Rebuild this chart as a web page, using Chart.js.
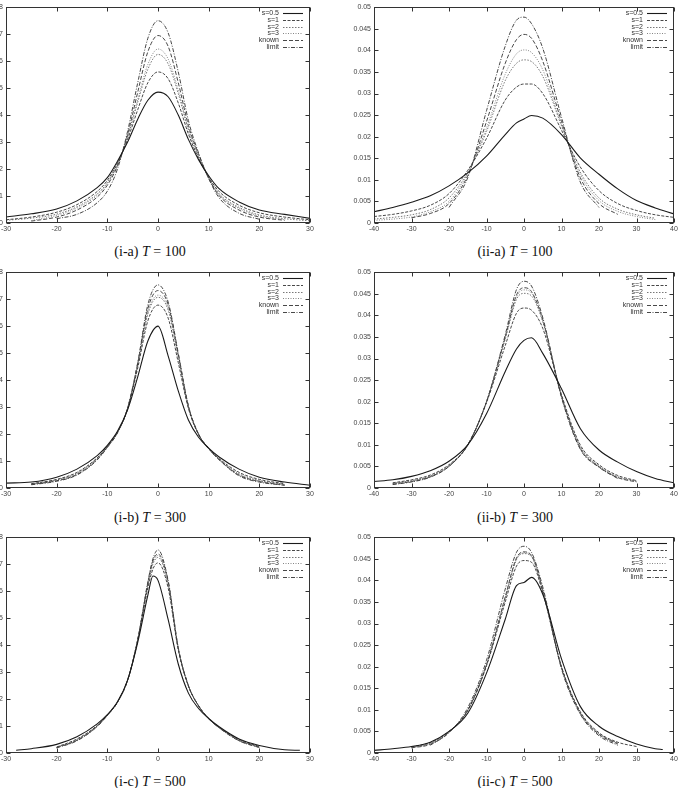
<!DOCTYPE html>
<html>
<head>
<meta charset="utf-8">
<script src="https://cdn.jsdelivr.net/npm/chart.js@4.4.0/dist/chart.umd.min.js"></script>
<style>
html, body { margin: 0; padding: 0; background: #fff; }
body { width: 678px; height: 788px; position: relative; overflow: hidden; }
canvas { position: absolute; }
.cap { position: absolute; width: 200px; text-align: center; font-family: "Liberation Serif", "DejaVu Serif", serif; font-size: 14px; line-height: 16px; color: #111; white-space: nowrap; }
</style>
</head>
<body>
<script>
// series names (legend order)
var seriesNames = ['s=0.5', 's=1', 's=2', 's=3', 'known', 'limit'];

// (i-a) T=100
var xIa = [-30, -25, -20, -16, -12, -10, -8, -6, -4, -2, 0, 2, 4, 6, 8, 10, 12, 16, 20, 25, 30];
var iaS05   = [.0022, .0034, .0052, .0082, .0131, .0168, .0229, .0300, .0385, .0455, .0485, .0468, .0400, .0310, .0235, .0175, .0128, .0078, .0048, .0032, .0017];
var iaS1    = [.0012, .0022, .0040, .0068, .0117, .0158, .0222, .0310, .0420, .0520, .0560, .0535, .0445, .0330, .0240, .0170, .0118, .0066, .0038, .0022, .0012];
var iaS2    = [.0010, .0018, .0033, .0060, .0108, .0150, .0218, .0318, .0448, .0570, .0625, .0590, .0480, .0345, .0245, .0168, .0110, .0058, .0030, .0016, .0008];
var iaS3    = [null, .0009, .0028, .0055, .0103, .0146, .0216, .0322, .0458, .0588, .0645, .0608, .0492, .0350, .0250, .0167, .0107, .0054, .0026, .0012, null];
var iaKnown = [null, .0007, .0022, .0048, .0096, .0140, .0212, .0328, .0485, .0635, .0695, .0655, .0520, .0362, .0255, .0166, .0103, .0048, .0022, .0010, null];
var iaLimit = [null, null, .0016, .0032, .0075, .0118, .0200, .0340, .0520, .0685, .0750, .0705, .0560, .0380, .0260, .0165, .0095, .0036, .0014, null, null];

// (ii-a) T=100
var xIIa = [-40, -35, -30, -25, -20, -15, -10, -5, -2, 0, 2, 5, 10, 15, 20, 25, 30, 35, 40];
var iiaS05   = [.0026, .0036, .0048, .0063, .0086, .0116, .0155, .0205, .0232, .0241, .0249, .0243, .0205, .0151, .0113, .0079, .0052, .0035, .0021];
var iiaS1    = [.0015, .0020, .0028, .0041, .0068, .0122, .0196, .0285, .0315, .0322, .0322, .0300, .0215, .0130, .0075, .0045, .0029, .0019, .0013];
var iiaS2    = [.0009, .0013, .0019, .0031, .0058, .0118, .0212, .0330, .0370, .0378, .0374, .0340, .0225, .0118, .0058, .0032, .0019, .0011, null];
var iiaS3    = [.0006, .0009, .0014, .0026, .0050, .0115, .0220, .0345, .0392, .0401, .0395, .0355, .0228, .0112, .0052, .0027, .0015, .0008, null];
var iiaKnown = [null, null, .0012, .0022, .0045, .0110, .0235, .0370, .0425, .0437, .0428, .0375, .0235, .0105, .0045, .0020, null, null, null];
var iiaLimit = [null, null, null, null, .0036, .0105, .0260, .0410, .0470, .0477, .0462, .0405, .0245, .0095, .0036, null, null, null, null];

// (i-b) T=300
var xIb = [-30, -25, -20, -16, -12, -10, -8, -6, -4, -2, 0, 2, 4, 6, 8, 10, 12, 16, 20, 25, 30];
var ibS05   = [.0018, .0022, .0040, .0070, .0120, .0158, .0210, .0290, .0412, .0545, .0600, .0490, .0360, .0252, .0188, .0148, .0116, .0070, .0040, .0022, .0010];
var ibS1    = [null, .0016, .0032, .0058, .0112, .0155, .0208, .0292, .0445, .0620, .0678, .0630, .0465, .0295, .0198, .0147, .0110, .0058, .0032, .0016, null];
var ibS2    = [null, .0015, .0030, .0055, .0110, .0154, .0207, .0294, .0455, .0645, .0707, .0660, .0485, .0300, .0199, .0147, .0108, .0053, .0028, .0014, null];
var ibS3    = [null, .0014, .0029, .0053, .0108, .0153, .0206, .0295, .0458, .0652, .0715, .0668, .0490, .0302, .0200, .0147, .0107, .0050, .0026, .0013, null];
var ibKnown = [null, .0013, .0027, .0050, .0106, .0152, .0205, .0296, .0462, .0665, .0732, .0680, .0495, .0304, .0200, .0146, .0106, .0048, .0024, .0011, null];
var ibLimit = [null, .0012, .0025, .0048, .0104, .0150, .0204, .0297, .0465, .0680, .0753, .0690, .0500, .0305, .0200, .0146, .0106, .0045, .0022, .0010, null];

// (ii-b) T=300
var xIIb = [-40, -35, -30, -25, -20, -15, -10, -5, -2, 0, 2, 5, 10, 15, 20, 25, 30, 35, 40];
var iibS05   = [.0015, .0019, .0027, .0040, .0062, .0100, .0172, .0270, .0322, .0342, .0348, .0312, .0230, .0138, .0088, .0060, .0038, .0022, .0012];
var iibS1    = [null, .0012, .0019, .0030, .0054, .0099, .0198, .0330, .0405, .0417, .0412, .0370, .0216, .0100, .0054, .0029, .0017, null, null];
var iibS2    = [null, .0011, .0017, .0028, .0052, .0100, .0200, .0345, .0437, .0451, .0445, .0385, .0214, .0096, .0051, .0026, .0016, null, null];
var iibS3    = [null, .0010, .0016, .0027, .0051, .0100, .0200, .0348, .0443, .0459, .0452, .0388, .0213, .0094, .0050, .0025, .0015, null, null];
var iibKnown = [null, .0009, .0015, .0026, .0050, .0100, .0200, .0350, .0447, .0464, .0455, .0390, .0212, .0092, .0049, .0024, .0014, null, null];
var iibLimit = [null, .0008, .0014, .0025, .0050, .0100, .0200, .0355, .0460, .0479, .0468, .0395, .0210, .0090, .0048, .0022, null, null, null];

// (i-c) T=500
var xIc = [-28, -25, -20, -16, -12, -10, -8, -6, -4, -2, -1, 0, 2, 4, 6, 8, 10, 12, 16, 20, 25, 28];
var icS05   = [.0010, .0016, .0032, .0060, .0108, .0142, .0190, .0270, .0410, .0585, .0656, .0640, .0495, .0330, .0222, .0165, .0128, .0098, .0052, .0028, .0012, .0010];
var icS1    = [null, null, .0022, .0052, .0102, .0141, .0189, .0270, .0420, .0612, .0682, .0705, .0612, .0383, .0248, .0175, .0129, .0097, .0050, .0024, null, null];
var icS2    = [null, null, .0021, .0049, .0101, .0140, .0188, .0270, .0420, .0622, .0700, .0725, .0625, .0386, .0249, .0175, .0128, .0096, .0048, .0023, null, null];
var icS3    = [null, null, .0021, .0048, .0100, .0140, .0188, .0270, .0420, .0627, .0708, .0732, .0630, .0388, .0250, .0175, .0128, .0095, .0047, .0022, null, null];
var icKnown = [null, null, .0020, .0047, .0099, .0140, .0188, .0270, .0420, .0630, .0712, .0738, .0635, .0389, .0250, .0175, .0127, .0095, .0046, .0021, null, null];
var icLimit = [null, null, .0019, .0045, .0098, .0139, .0188, .0270, .0420, .0635, .0720, .0753, .0640, .0390, .0250, .0175, .0127, .0094, .0045, .0020, null, null];

// (ii-c) T=500
var xIIc = [-40, -35, -30, -25, -20, -15, -10, -5, -2, 0, 2, 5, 10, 15, 20, 25, 30, 35, 37];
var iicS05   = [.0006, .0010, .0015, .0025, .0050, .0092, .0185, .0310, .0388, .0395, .0407, .0368, .0218, .0108, .0062, .0038, .0021, .0010, .0008];
var iicS1    = [null, null, .0014, .0024, .0050, .0098, .0202, .0350, .0433, .0446, .0442, .0372, .0200, .0096, .0047, .0025, .0015, null, null];
var iicS2    = [null, null, .0013, .0022, .0049, .0099, .0204, .0358, .0448, .0462, .0455, .0376, .0199, .0094, .0045, .0023, null, null, null];
var iicS3    = [null, null, .0012, .0021, .0048, .0100, .0205, .0360, .0450, .0464, .0456, .0377, .0198, .0093, .0044, .0022, null, null, null];
var iicKnown = [null, null, .0012, .0020, .0048, .0100, .0205, .0362, .0452, .0466, .0458, .0378, .0198, .0092, .0043, .0021, null, null, null];
var iicLimit = [null, null, null, .0018, .0047, .0105, .0215, .0380, .0465, .0479, .0465, .0385, .0195, .0090, .0040, .0018, null, null, null];

var captions = ['(i-a) <i>T</i> = 100', '(ii-a) <i>T</i> = 100', '(i-b) <i>T</i> = 300', '(ii-b) <i>T</i> = 300', '(i-c) <i>T</i> = 500', '(ii-c) <i>T</i> = 500'];

var panels = [
    { xs: xIa,  ys: [iaS05, iaS1, iaS2, iaS3, iaKnown, iaLimit],       xr: 30, ymax: 0.08, ystep: 0.01,  col: 0, row: 0 },
    { xs: xIIa, ys: [iiaS05, iiaS1, iiaS2, iiaS3, iiaKnown, iiaLimit], xr: 40, ymax: 0.05, ystep: 0.005, col: 1, row: 0 },
    { xs: xIb,  ys: [ibS05, ibS1, ibS2, ibS3, ibKnown, ibLimit],       xr: 30, ymax: 0.08, ystep: 0.01,  col: 0, row: 1 },
    { xs: xIIb, ys: [iibS05, iibS1, iibS2, iibS3, iibKnown, iibLimit], xr: 40, ymax: 0.05, ystep: 0.005, col: 1, row: 1 },
    { xs: xIc,  ys: [icS05, icS1, icS2, icS3, icKnown, icLimit],       xr: 30, ymax: 0.08, ystep: 0.01,  col: 0, row: 2 },
    { xs: xIIc, ys: [iicS05, iicS1, iicS2, iicS3, iicKnown, iicLimit], xr: 40, ymax: 0.05, ystep: 0.005, col: 1, row: 2 }
];

// line styles per series
var styles = [
    { color: '#1a1a1a', width: 1.1, dash: [] },
    { color: '#333',    width: 0.9, dash: [3, 1.5] },
    { color: '#555',    width: 0.8, dash: [1.5, 1.5] },
    { color: '#666',    width: 0.8, dash: [1, 1.5] },
    { color: '#333',    width: 0.9, dash: [4, 2] },
    { color: '#333',    width: 0.9, dash: [4, 1.5, 1, 1.5] }
];

function toPoints(xs, ys) {
    var out = [];
    for (var i = 0; i < xs.length; i++) {
        if (ys[i] !== null) out.push({ x: xs[i], y: ys[i] });
    }
    return out;
}

// gnuplot-like frame: box, inward ticks on all sides, legend inside top right
var framePlugin = {
    id: 'frame',
    afterDatasetsDraw: function(chart) {
        var ctx = chart.ctx, a = chart.chartArea;
        var L = Math.round(a.left) + 0.5, R = Math.round(a.right) - 0.5;
        var T = Math.round(a.top) + 0.5, B = Math.round(a.bottom) - 0.5;
        ctx.save();
        ctx.setLineDash([]);
        ctx.strokeStyle = '#333';
        ctx.lineWidth = 1;
        ctx.strokeRect(L, T, R - L, B - T);
        ctx.beginPath();
        var xs = chart.scales.x, ys = chart.scales.y;
        xs.ticks.forEach(function(t) {
            var p = Math.round(xs.getPixelForValue(t.value)) + 0.5;
            ctx.moveTo(p, B); ctx.lineTo(p, B - 4);
            ctx.moveTo(p, T); ctx.lineTo(p, T + 4);
        });
        ys.ticks.forEach(function(t) {
            var p = Math.round(ys.getPixelForValue(t.value)) + 0.5;
            ctx.moveTo(L, p); ctx.lineTo(L + 4, p);
            ctx.moveTo(R, p); ctx.lineTo(R - 4, p);
        });
        ctx.stroke();

        ctx.font = '7px "Liberation Sans", Arial, sans-serif';
        ctx.textAlign = 'right';
        ctx.textBaseline = 'middle';
        ctx.fillStyle = '#333';
        chart.data.datasets.forEach(function(ds, i) {
            var y = Math.round(a.top + 6 + i * 6.7) + 0.5;
            ctx.fillText(ds.label, a.right - 31, y);
            ctx.beginPath();
            ctx.setLineDash(ds.borderDash);
            ctx.lineWidth = ds.borderWidth;
            ctx.strokeStyle = ds.borderColor;
            ctx.moveTo(a.right - 27, y);
            ctx.lineTo(a.right - 7, y);
            ctx.stroke();
        });
        ctx.restore();
    }
};

var rowTops = [0, 265, 530];
var capTops = [244, 510, 774];

panels.forEach(function(p, k) {
    var canvas = document.createElement('canvas');
    var left = p.col === 0 ? -34 : 338;
    var w = p.col === 0 ? 352 : 344;
    var h = 239;
    var yw = p.col === 0 ? 40 : 36;
    canvas.width = w; canvas.height = h;
    canvas.style.left = left + 'px';
    canvas.style.top = rowTops[p.row] + 'px';
    canvas.style.width = w + 'px';
    canvas.style.height = h + 'px';
    document.body.appendChild(canvas);

    var cap = document.createElement('div');
    cap.className = 'cap';
    cap.style.left = (p.col === 0 ? 50 : 415) + 'px';
    cap.style.top = capTops[p.row] + 'px';
    cap.innerHTML = captions[k];
    document.body.appendChild(cap);

    var datasets = p.ys.map(function(ys, i) {
        return {
            label: seriesNames[i],
            data: toPoints(p.xs, ys),
            borderColor: styles[i].color,
            borderWidth: styles[i].width,
            borderDash: styles[i].dash,
            pointRadius: 0,
            fill: false,
            cubicInterpolationMode: 'monotone'
        };
    });

    var tickFont = { family: '"Liberation Sans", Arial, sans-serif', size: 7 };

    new Chart(canvas.getContext('2d'), {
        type: 'line',
        data: { datasets: datasets },
        plugins: [framePlugin],
        options: {
            responsive: false,
            animation: false,
            layout: { padding: { top: 4, right: 8, left: 0, bottom: 0 } },
            plugins: { legend: { display: false }, tooltip: { enabled: false } },
            scales: {
                x: {
                    type: 'linear',
                    min: -p.xr, max: p.xr,
                    grid: { display: false, drawTicks: false },
                    border: { display: false },
                    ticks: { stepSize: 10, padding: 2, maxRotation: 0, autoSkip: false, color: '#444', font: tickFont },
                    afterFit: function(scale) { scale.height = 16; }
                },
                y: {
                    min: 0, max: p.ymax,
                    grid: { display: false, drawTicks: false },
                    border: { display: false },
                    ticks: {
                        stepSize: p.ystep, padding: 3, color: '#444', font: tickFont,
                        callback: function(v) { return String(Math.round(v * 1000) / 1000); }
                    },
                    afterFit: function(scale) { scale.width = yw; }
                }
            }
        }
    });
});
</script>
</body>
</html>
